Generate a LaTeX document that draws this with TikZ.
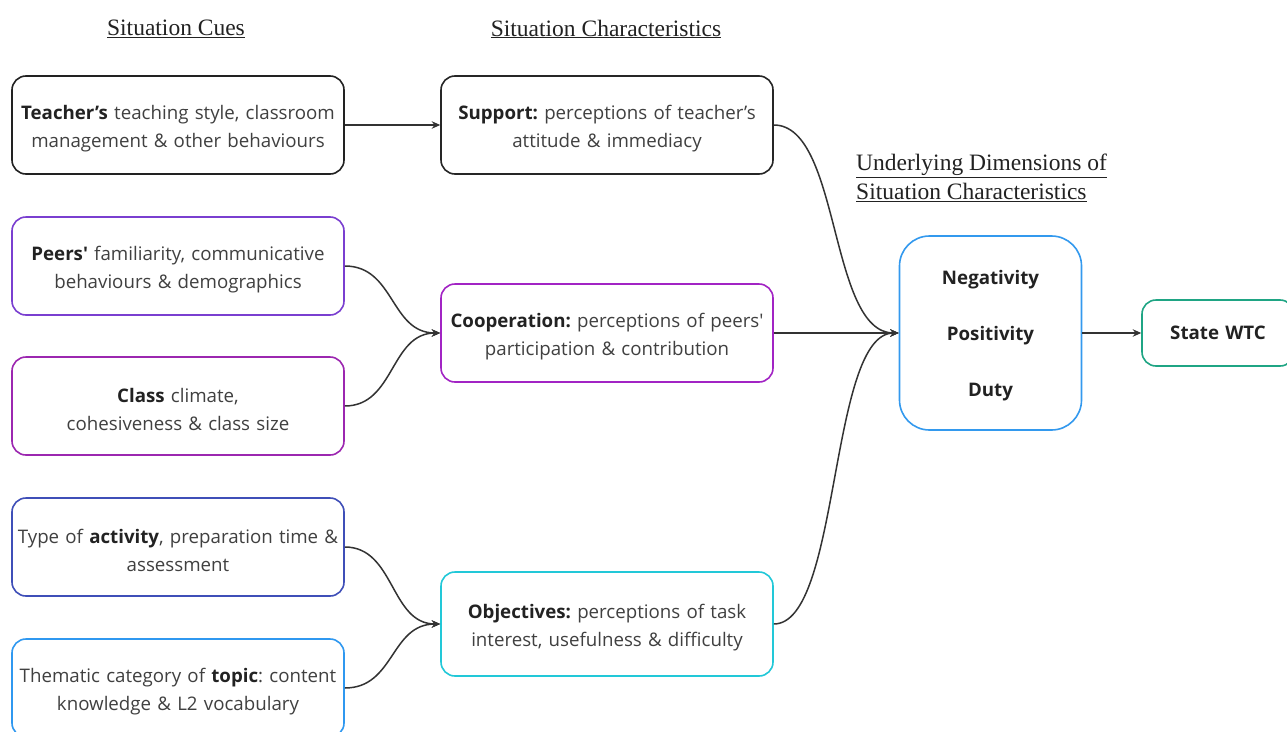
\documentclass[tikz,border=0pt]{standalone}
\usepackage{fontspec}
\setmainfont{Open Sans}[Ligatures=TeXOff]
\newfontfamily\headfont{Liberation Serif}
\usetikzlibrary{arrows.meta}
\frenchspacing

\definecolor{ink}{HTML}{404040}
\definecolor{strong}{HTML}{222222}
\definecolor{linkc}{HTML}{333333}
\definecolor{cTeacher}{HTML}{222222}
\definecolor{cPeers}{HTML}{7A3FD0}
\definecolor{cClass}{HTML}{9C27B0}
\definecolor{cCoop}{HTML}{A224C4}
\definecolor{cActivity}{HTML}{3F4FB8}
\definecolor{cTopic}{HTML}{2F98F0}
\definecolor{cObj}{HTML}{22C8D8}
\definecolor{cDim}{HTML}{3399EE}
\definecolor{cWTC}{HTML}{1FA584}

\newcommand{\kw}[1]{\textcolor{strong}{\bfseries #1}}
% invisible strut that gives the first line some extra head room
\newcommand{\lift}[1][22pt]{\rule{0pt}{#1}}

\tikzset{
  card/.style={draw, fill=white, rounded corners=14pt, line width=1.6pt,
    minimum width=332pt, minimum height=98pt, text width=324pt,
    align=center, inner sep=0pt, text=ink,
    font=\fontsize{18.7}{28}\selectfont},
  heading/.style={font=\headfont\fontsize{23.5}{29}\selectfont, text=strong,
    inner sep=0pt},
  link/.style={draw=linkc, line width=1.5pt,
    -{Stealth[length=8.5pt,width=7.5pt]}},
}

\begin{document}
\begin{tikzpicture}[x=1pt,y=-1pt]
\useasboundingbox (0,0) rectangle (1287,731);
\fill[white] (0,0) rectangle (1287,731);
\clip (0,0) rectangle (1287,731);

% column headings
\node[heading] (hcues) at (176,29) {\underline{Situation Cues}};
\node[heading] (hchar) at (606,29) {\underline{Situation Characteristics}};
\node[heading, anchor=west, align=left] (hdim) at (856,178)
  {\underline{Underlying Dimensions of}\\\underline{Situation Characteristics}};

% situation cues
\node[card, draw=cTeacher] (teacher) at (178,125)
  {\lift\kw{Teacher’s} teaching style, classroom\\ management \& other behaviours};
\node[card, draw=cPeers] (peers) at (178,266)
  {\lift\kw{Peers'} familiarity, communicative\\ behaviours \& demographics};
\node[card, draw=cClass] (class) at (178,406)
  {\lift\kw{Class} climate,\\ cohesiveness \& class size};
\node[card, draw=cActivity] (activity) at (178,547)
  {\lift Type of \kw{activity}, preparation time \&\\ assessment};
\node[card, draw=cTopic] (topic) at (178,688)
  {\lift Thematic category of \kw{topic}: content\\ knowledge \& L2 vocabulary};

% situation characteristics
\node[card, draw=black!85] (support) at (607,125)
  {\lift\kw{Support:} perceptions of teacher’s\\ attitude \& immediacy};
\node[card, draw=cCoop] (coop) at (607,333)
  {\lift\kw{Cooperation:} perceptions of peers'\\ participation \& contribution};
\node[card, draw=cObj, minimum height=104pt] (obj) at (607,624)
  {\lift\kw{Objectives:} perceptions of task\\ interest, usefulness \& difficulty};

% underlying dimensions and outcome
\node[card, draw=cDim, rounded corners=30pt, minimum width=182pt,
  minimum height=194pt, text width=170pt,
  font=\bfseries\fontsize{18.7}{56}\selectfont, text=strong] (dim) at (990.5,333)
  {\lift[20pt]Negativity\\ Positivity\\ Duty};
\node[card, draw=cWTC, minimum width=152pt, minimum height=66pt,
  text width=140pt, font=\bfseries\fontsize{18.7}{28}\selectfont,
  text=strong] (wtc) at (1218,333) {State WTC};

% connectors
\draw[link] (teacher.east) -- (support.west);
\draw[link] (peers.east) .. controls +(50,0) and +(-50,0) .. (coop.west);
\draw[link] (class.east) .. controls +(50,0) and +(-50,0) .. (coop.west);
\draw[link] (activity.east) .. controls +(50,0) and +(-50,0) .. (obj.west);
\draw[link] (topic.east) .. controls +(50,0) and +(-50,0) .. (obj.west);
\draw[link] (support.east) .. controls +(67,0) and +(-70,0) .. (dim.west);
\draw[link] (coop.east) -- (dim.west);
\draw[link] (obj.east) .. controls +(67,0) and +(-70,0) .. (dim.west);
\draw[link] (dim.east) -- (wtc.west);
\end{tikzpicture}
\end{document}
